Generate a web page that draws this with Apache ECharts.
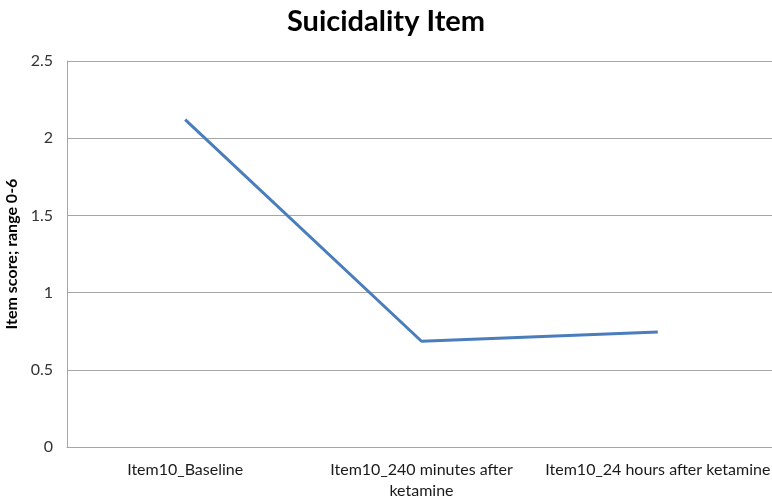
<!DOCTYPE html>
<html>
<head>
<meta charset="utf-8">
<script src="https://cdn.jsdelivr.net/npm/echarts@6/dist/echarts.min.js"></script>
<style>html,body{margin:0;padding:0;background:#fff;}#c{width:772px;height:498px;}</style>
</head>
<body>
<div id="c"></div>
<script>
const categories = ['Item10_Baseline', 'Item10_240 minutes after\nketamine', 'Item10_24 hours after ketamine'];
const values = [2.12, 0.685, 0.745];
const yTicks = [0, 0.5, 1, 1.5, 2, 2.5];

const chart = echarts.init(document.getElementById('c'), null, {renderer: 'canvas'});
const FONT = 'Lato, "Open Sans", sans-serif';
chart.setOption({
  animation: false,
  backgroundColor: '#ffffff',
  title: {
    text: 'Suicidality Item',
    left: 'center',
    top: 2,
    textStyle: {fontFamily: FONT, fontWeight: 'bold', fontSize: 29, color: '#000'}
  },
  grid: {left: 67, right: -4, top: 61, bottom: 51, containLabel: false, outerBoundsMode: 'none'},
  xAxis: {
    type: 'category',
    boundaryGap: true,
    data: categories,
    axisLine: {show: true, lineStyle: {color: '#a6a6a6', width: 1}},
    axisTick: {show: false},
    axisLabel: {interval: 0, margin: 12, fontFamily: FONT, fontSize: 16, color: '#1a1a1a', lineHeight: 21, hideOverlap: false}
  },
  yAxis: {
    type: 'value',
    min: yTicks[0],
    max: yTicks[yTicks.length - 1],
    interval: 0.5,
    name: 'Item score; range 0-6',
    nameLocation: 'middle',
    nameGap: 42,
    nameTextStyle: {fontFamily: FONT, fontWeight: 'bold', fontSize: 16, color: '#000'},
    axisLine: {show: true, lineStyle: {color: '#a6a6a6', width: 1}},
    axisTick: {show: false},
    splitLine: {show: true, lineStyle: {color: '#a6a6a6', width: 1}},
    axisLabel: {margin: 14, fontFamily: FONT, fontSize: 16, color: '#333'}
  },
  series: [{
    type: 'line',
    data: values,
    symbol: 'none',
    lineStyle: {color: '#4a7ebb', width: 3},
    itemStyle: {color: '#4a7ebb'}
  }]
});
</script>
</body>
</html>
